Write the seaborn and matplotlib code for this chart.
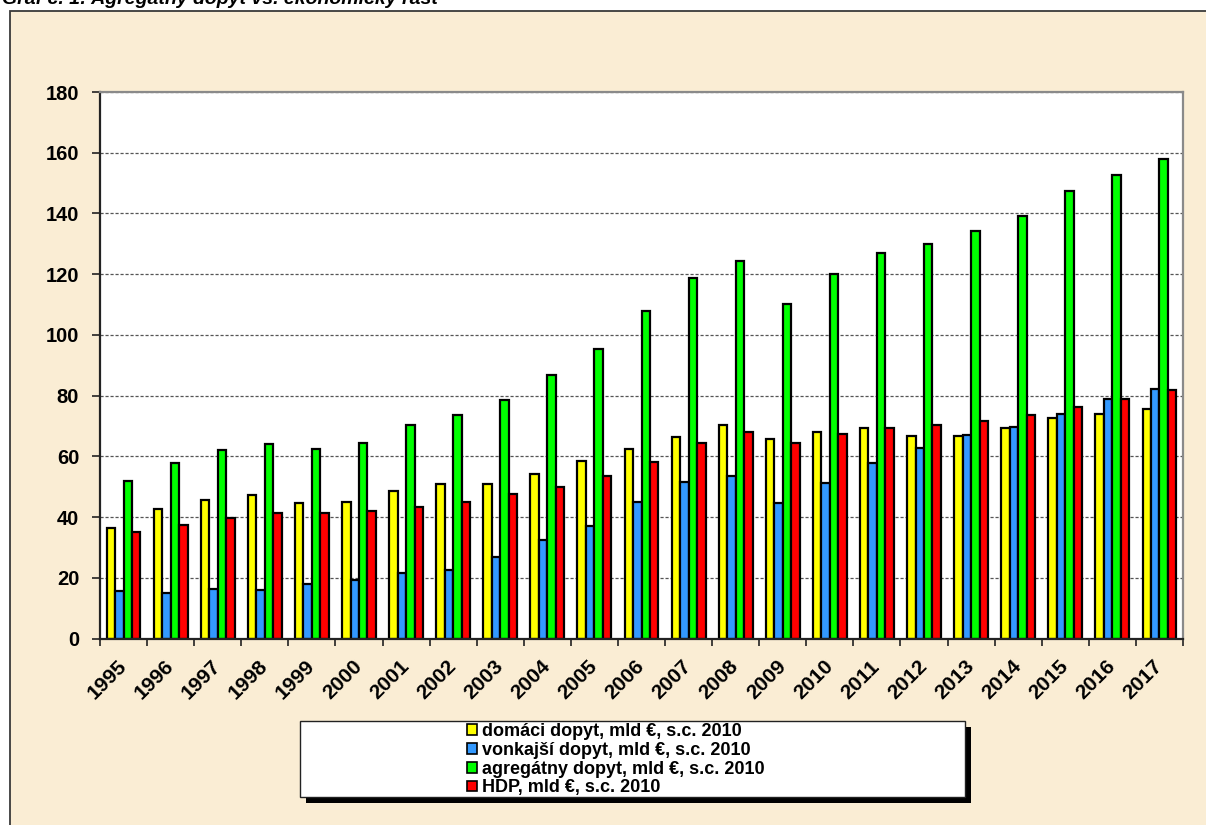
import numpy as np
import pandas as pd
import matplotlib
matplotlib.use('Agg')
import matplotlib.pyplot as plt
from matplotlib.patches import Rectangle, Patch
import seaborn as sns

# ---------------- data ----------------
years = ['1995', '1996', '1997', '1998', '1999', '2000', '2001', '2002', '2003',
         '2004', '2005', '2006', '2007', '2008', '2009', '2010', '2011', '2012',
         '2013', '2014', '2015', '2016', '2017']
domaci = [36.5, 42.6, 45.6, 47.3, 44.5, 45.1, 48.7, 50.9, 50.9, 54.1, 58.3, 62.4,
          66.5, 70.3, 65.6, 68.1, 69.2, 66.6, 66.6, 69.2, 72.7, 73.8, 75.5]
vonkajsi = [15.6, 14.9, 16.3, 16.0, 17.9, 19.3, 21.5, 22.6, 27.0, 32.5, 37.1, 45.1,
            51.7, 53.5, 44.5, 51.3, 57.7, 62.9, 66.9, 69.8, 74.0, 79.0, 82.1]
agregatny = [51.9, 57.7, 62.1, 64.0, 62.5, 64.5, 70.3, 73.6, 78.4, 86.7, 95.3, 107.8,
             118.6, 124.4, 110.1, 120.0, 127.1, 129.8, 134.1, 139.2, 147.5, 152.6, 157.8]
hdp = [35.2, 37.4, 39.8, 41.5, 41.5, 42.0, 43.4, 45.1, 47.6, 50.0, 53.5, 58.2,
       64.3, 67.9, 64.3, 67.5, 69.2, 70.4, 71.5, 73.5, 76.4, 79.0, 81.8]
series_names = ['domáci dopyt, mld €, s.c. 2010',
                'vonkajší dopyt, mld €, s.c. 2010',
                'agregátny dopyt, mld €, s.c. 2010',
                'HDP, mld €, s.c. 2010']
series_colors = ['#FFFF00', '#3399FF', '#00FF00', '#FF0000']
y_ticks = [0, 20, 40, 60, 80, 100, 120, 140, 160, 180]
title = 'Graf č. 1: Agregátny dopyt vs. ekonomický rast'

values = [domaci, vonkajsi, agregatny, hdp]
df = pd.DataFrame({
    'rok': np.tile(years, len(series_names)),
    'ukazovatel': np.repeat(series_names, len(years)),
    'hodnota': np.concatenate(values),
})

# ---------------- figure ----------------
W, H = 1206, 825
plt.rcParams['font.family'] = ['Liberation Sans', 'DejaVu Sans']
fig = plt.figure(figsize=(W / 100, H / 100), dpi=100)
fig.patch.set_facecolor('white')

# parchment frame
frame = Rectangle((10 / W, -0.05), 1.2, 1 - 11 / H + 0.05, transform=fig.transFigure,
                  facecolor='#FAEDD4', edgecolor='#3a3a3a', lw=1.3, zorder=-2)
fig.add_artist(frame)

ax = fig.add_axes([100 / W, (H - 638.5) / H, 1083 / W, 546.5 / H])
ax.set_facecolor('white')
ax.set_axisbelow(True)

sns.barplot(data=df, x='rok', y='hodnota', hue='ukazovatel', order=years,
            hue_order=series_names, palette=series_colors, width=0.72,
            edgecolor='black', linewidth=1.6, errorbar=None, legend=False,
            saturation=1, ax=ax)

ax.set_xlim(-0.5, len(years) - 0.5)
ax.set_ylim(0, 180)
ax.set_yticks(y_ticks)
ax.set_yticklabels([str(v) for v in y_ticks], fontsize=14.5, fontweight='bold')
ax.tick_params(axis='y', length=6, width=1.2, pad=9, color='#222222')
ax.yaxis.grid(True, linestyle=(0, (2.5, 1.5)), color='#555555', lw=0.9)
ax.xaxis.grid(False)

ax.set_xticks(range(len(years)))
ax.set_xticklabels(years, rotation=45, ha='right', va='center',
                   rotation_mode='anchor', fontsize=15, fontweight='bold')
ax.tick_params(axis='x', which='major', length=0, pad=18)
ax.set_xticks(np.arange(-0.5, len(years), 1), minor=True)
ax.tick_params(axis='x', which='minor', length=5, width=1.2, color='#222222')
ax.set_xlabel('')
ax.set_ylabel('')

for side in ['left', 'bottom']:
    ax.spines[side].set_color('#222222')
    ax.spines[side].set_linewidth(1.6)
for side in ['top', 'right']:
    ax.spines[side].set_color('#8a8a8a')
    ax.spines[side].set_linewidth(1.6)

# title (partially cut off at top like the reference)
fig.text(2 / W, 1 - 4 / H, title, fontsize=14, fontweight='bold',
         fontstyle='italic', ha='left', va='baseline')

# legend box with shadow
bx0, bx1, by0, by1 = 300, 965, 721, 797
shadow = Rectangle(((bx0 + 6) / W, (H - by1 - 6) / H), (bx1 - bx0) / W, (by1 - by0) / H,
                   transform=fig.transFigure, facecolor='black', edgecolor='none', zorder=1)
box = Rectangle((bx0 / W, (H - by1) / H), (bx1 - bx0) / W, (by1 - by0) / H,
                transform=fig.transFigure, facecolor='white', edgecolor='#222222',
                lw=1.0, zorder=2)
fig.add_artist(shadow)
fig.add_artist(box)

handles = [Patch(facecolor=c, edgecolor='black', lw=1.2) for c in series_colors]
leg = fig.legend(handles, series_names, loc='upper left',
                 bbox_to_anchor=(467 / W, 1 - 723 / H), frameon=False,
                 prop={'size': 13, 'weight': 'bold'}, handlelength=0.55,
                 handleheight=0.55, handletextpad=0.3, labelspacing=0.1,
                 borderpad=0, borderaxespad=0)
leg.set_zorder(5)

fig.savefig('out.png', dpi=100, facecolor=fig.get_facecolor())
